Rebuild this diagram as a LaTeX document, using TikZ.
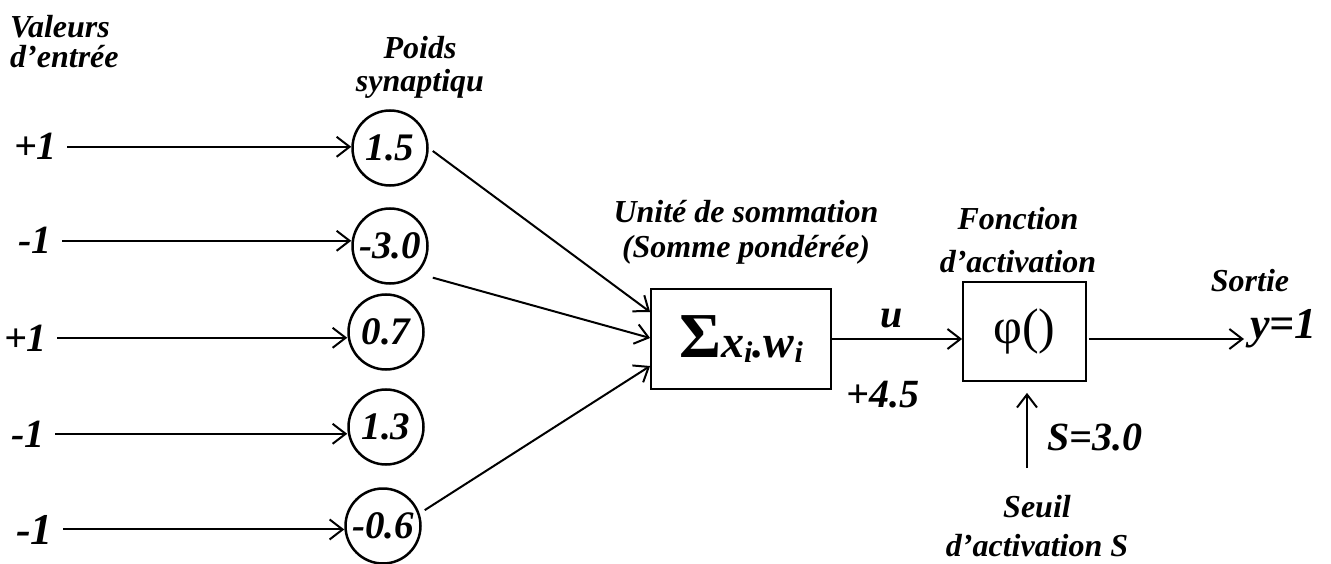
\documentclass[tikz,border=0pt]{standalone}
\usepackage{fontspec}
\setmainfont{Liberation Serif}
\usetikzlibrary{arrows.meta}
\begin{document}
\begin{tikzpicture}[x=1pt,y=-1pt,
  arr/.style={line width=2pt,-{Straight Barb[length=13pt,width=20pt,line width=2pt]}},
  lbl/.style={inner sep=0pt, align=center, font=\fontsize{32}{#1}\selectfont\bfseries\itshape},
  lbl/.default=30,
  val/.style={inner sep=0pt, font=\fontsize{#1}{#1}\selectfont\bfseries\itshape},
  val/.default=40,
  wt/.style={circle, draw, line width=2.5pt, minimum size=75pt, inner sep=0pt, font=\fontsize{39}{39}\selectfont\bfseries\itshape},
  blk/.style={draw, line width=1.8pt, inner sep=0pt}
]
\useasboundingbox (0,0) rectangle (1331,564);

% titles
\node[lbl=30, align=left, anchor=north west] (vin) at (10,15) {Valeurs\\d’entrée};
\node[lbl=33, anchor=north] (poids) at (420,36) {Poids\\synaptiqu};
\node[lbl=35, anchor=north] (unite) at (746,200) {Unité de sommation\\(Somme pondérée)};
\node[lbl=43, anchor=north] (fonc) at (1018,207) {Fonction\\d’activation};
\node[lbl, anchor=center] (sortie) at (1250,281) {Sortie};
\node[lbl=39, anchor=north] (seuil) at (1037,495) {Seuil\\d’activation S};

% input values
\node[val, anchor=base east] (l1) at (57,160) {+1};
\node[val, anchor=base east] (l2) at (52,254) {-1};
\node[val, anchor=base east] (l3) at (47,351) {+1};
\node[val, anchor=base east] (l4) at (45,447) {-1};
\node[val=44, anchor=base east] (l5) at (53,544) {-1};

% weights
\node[wt] (w1) at (390,148) {1.5};
\node[wt] (w2) at (390,246) {-3.0};
\node[wt] (w3) at (386,332) {0.7};
\node[wt] (w4) at (386,427) {1.3};
\node[wt] (w5) at (383,526) {-0.6};

\foreach \i in {1,...,5}{
  \draw[arr, shorten <=10pt] (l\i.east) -- (l\i.east -| w\i.west);
}

% summation block
\node[blk, minimum width=180pt, minimum height=100pt] (sum) at (741,339)
  {\fontsize{64}{64}\selectfont\bfseries Σ\fontsize{46}{46}\selectfont\itshape x\raisebox{-5pt}{\fontsize{30}{30}\selectfont i}.w\raisebox{-5pt}{\fontsize{30}{30}\selectfont i}};

\draw[arr, shorten <=5pt] (w1.east) -- ([yshift=27pt]sum.west);
\draw[arr, shorten <=16pt] (w2.south east) -- ([yshift=1pt]sum.west);
\draw[arr, shorten <=6pt] (w5.19) -- ([yshift=-27pt]sum.west);

% activation block
\node[blk, minimum width=123pt, minimum height=99pt] (phi) at (1024.5,331.5)
  {\fontsize{50}{50}\selectfont φ()};

\draw[arr] (sum.east) -- (sum.east -| phi.west);
\node[val, anchor=base] (u) at (892,327) {u};
\node[val, anchor=base] (res) at (883,407) {+4.5};

% output
\node[val=44, anchor=base west] (y) at (1250,338) {y=1};
\draw[arr, shorten >=6pt, shorten <=2pt] (phi.east |- sum.east) -- (y.west |- sum.east);

% threshold
\coordinate (sb) at (1027,468);
\draw[arr, shorten >=11pt] (sb) -- (sb |- phi.south);
\node[val=40, anchor=base west] (s) at (1047,450) {S=3.0};
\end{tikzpicture}
\end{document}
